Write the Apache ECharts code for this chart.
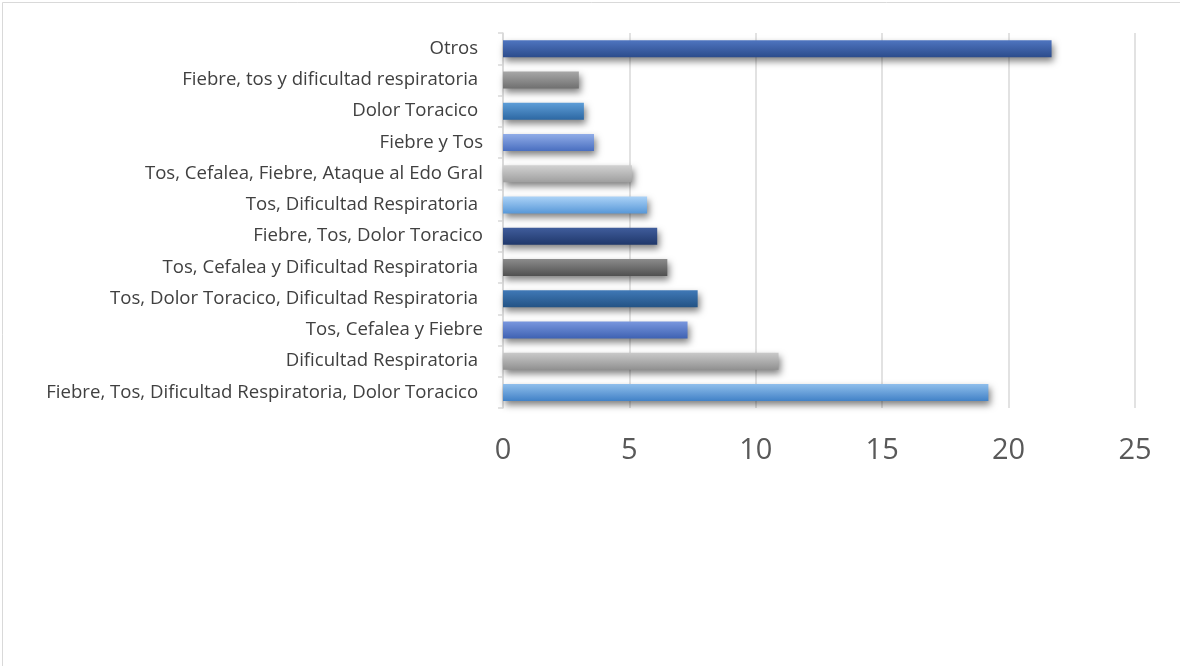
<!DOCTYPE html>
<html>
<head>
<meta charset="utf-8">
<script src="https://cdn.jsdelivr.net/npm/echarts@6/dist/echarts.min.js"></script>
<style>
  html, body { margin: 0; padding: 0; background: #fff; }
  #chart { width: 1180px; height: 666px; }
</style>
</head>
<body>
<div id="chart"></div>
<script>
// Symptom groups, listed top to bottom as drawn
const categories = [
  'Otros ',
  'Fiebre, tos y dificultad respiratoria ',
  'Dolor Toracico ',
  'Fiebre y Tos',
  'Tos, Cefalea, Fiebre, Ataque al Edo Gral',
  'Tos, Dificultad Respiratoria ',
  'Fiebre, Tos, Dolor Toracico',
  'Tos, Cefalea y Dificultad Respiratoria ',
  'Tos, Dolor Toracico, Dificultad Respiratoria ',
  'Tos, Cefalea y Fiebre',
  'Dificultad Respiratoria ',
  'Fiebre, Tos, Dificultad Respiratoria, Dolor Toracico '
];

// Share of cases (%) for each group
const values = [21.7, 3.0, 3.2, 3.6, 5.1, 5.7, 6.1, 6.5, 7.7, 7.3, 10.9, 19.2];

// Value axis ticks
const xTicks = [0, 5, 10, 15, 20, 25];

// Gradient stops (top, bottom) for each bar
const barColors = [
  ['#4f75c0', '#2c4c8c'],
  ['#a8a8a8', '#707070'],
  ['#5e9ed8', '#2d68a3'],
  ['#91ade8', '#4a6fc0'],
  ['#d2d2d2', '#9f9f9f'],
  ['#acd3f7', '#5898d8'],
  ['#405d9c', '#20386b'],
  ['#8c8c8c', '#515151'],
  ['#4079b7', '#235385'],
  ['#7997de', '#3f62b3'],
  ['#cacaca', '#919191'],
  ['#90bfec', '#4282c7']
];

const chart = echarts.init(document.getElementById('chart'), null, { renderer: 'canvas' });

const seriesData = values.map((v, i) => ({
  value: v,
  itemStyle: {
    color: new echarts.graphic.LinearGradient(0, 0, 0, 1, [
      { offset: 0, color: barColors[i][0] },
      { offset: 1, color: barColors[i][1] }
    ])
  }
}));

chart.setOption({
  animation: false,
  backgroundColor: '#ffffff',
  graphic: [{
    type: 'rect',
    left: 0, top: 0,
    shape: { width: 1179, height: 665 },
    style: { fill: 'none', stroke: '#d9d9d9', lineWidth: 1 },
    silent: true
  }],
  grid: { left: 503, right: 45, top: 33, bottom: 258, containLabel: false },
  xAxis: {
    type: 'value',
    min: xTicks[0],
    max: xTicks[xTicks.length - 1],
    interval: xTicks[1] - xTicks[0],
    axisLine: { show: false },
    axisTick: { show: false },
    splitLine: { show: true, lineStyle: { color: '#d9d9d9', width: 1.5 } },
    axisLabel: {
      color: '#595959',
      fontFamily: 'Open Sans',
      fontSize: 29,
      margin: 28
    }
  },
  yAxis: {
    type: 'category',
    inverse: true,
    data: categories,
    axisLine: { show: true, lineStyle: { color: '#d9d9d9', width: 1.5 } },
    axisTick: { show: true, length: 5, lineStyle: { color: '#d9d9d9', width: 1.5 } },
    axisLabel: {
      color: '#404040',
      fontFamily: 'Open Sans',
      fontSize: 18.6,
      margin: 20
    }
  },
  series: [{
    type: 'bar',
    data: seriesData,
    barWidth: 17,
    itemStyle: {
      shadowColor: 'rgba(0,0,0,0.5)',
      shadowBlur: 7,
      shadowOffsetX: 2,
      shadowOffsetY: 4
    }
  }]
});
</script>
</body>
</html>
